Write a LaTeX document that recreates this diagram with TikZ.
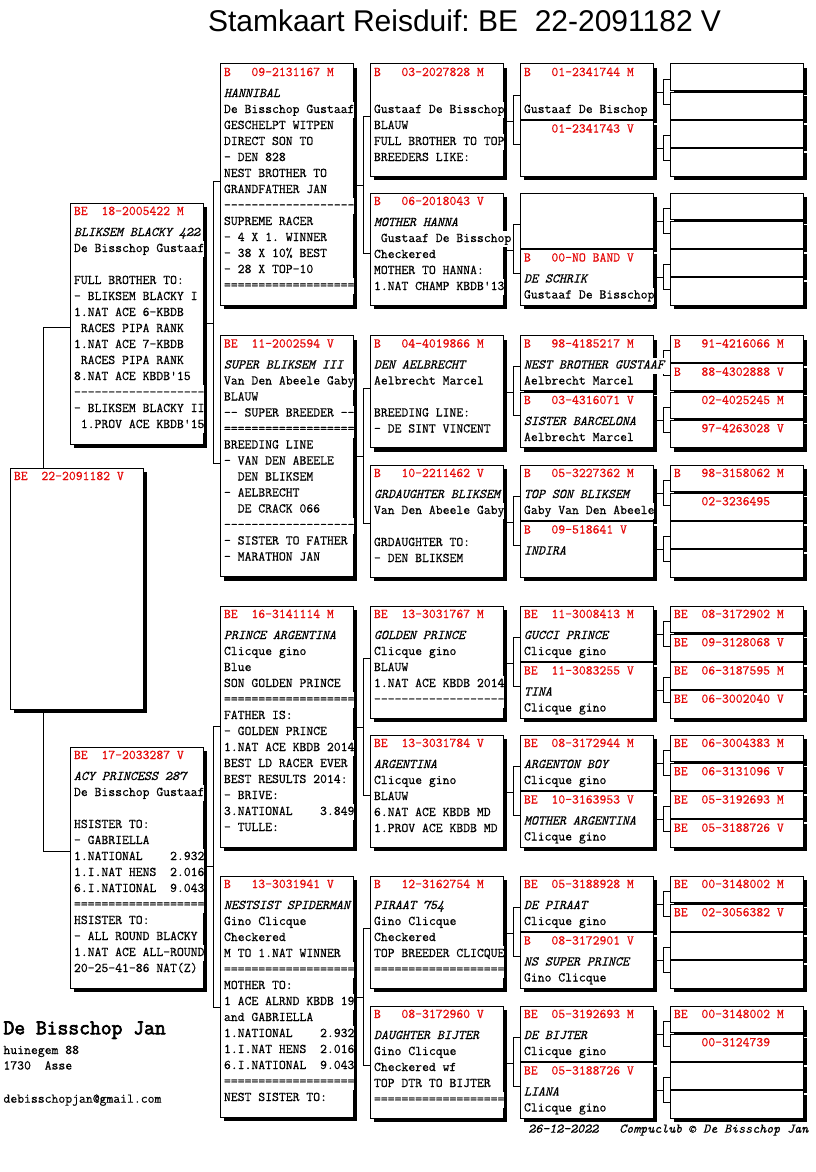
\documentclass[tikz,border=0pt]{standalone}
\usepackage{fontspec}
\setmonofont{Latin Modern Mono}[FakeBold=0.5]
\newfontfamily\ownerfont{Latin Modern Mono}[FakeBold=3]
\newfontfamily\titlefont{Liberation Sans}
\usetikzlibrary{calc}
\pgfdeclarelayer{bg}
\pgfsetlayers{bg,main}
\definecolor{ringred}{RGB}{230,10,10}
\frenchspacing
\newcommand\boxfont{\ttfamily\fontsize{13.33pt}{16pt}\selectfont}
\tikzset{
  boxst/.style={draw=black, line width=1pt, fill=white, rectangle, anchor=north west, inner sep=0pt, outer sep=0pt, minimum width=133pt},
  txt/.style={anchor=base west, inner sep=0pt, outer sep=0pt, fill=white, text height=11pt, text depth=5pt, font=\boxfont},
  itxt/.style={txt, font=\boxfont\itshape},
  rtxt/.style={txt, text=ringred},
  conn/.style={draw=black, line width=1pt},
  free/.style={anchor=base west, inner sep=0pt, outer sep=0pt},
}
\newcommand\pbox[4]{\fill[black] (#2+4,#3+4) rectangle ++(133,#4); \node[boxst, minimum height=#4pt] (#1) at (#2,#3) {};}
\newcommand\bxring[2]{\node[rtxt] (#1-r) at ($(#1.north west)+(4,12)$) {#2};}
\newcommand\bxline[3]{\node[txt] (#1-#2) at ($(#1.north west)+(4,{17+16*#2})$) {#3};}
\newcommand\bxital[3]{\node[itxt] (#1-#2) at ($(#1.north west)+(4,{17+16*#2})$) {#3};}
\newcommand\brk[7]{%
  \draw[conn] (#1.east |- 0,#2) -- (#3,#2);
  \draw[conn] (#4.west |- 0,#5) -| (#3,#7) -- (#6.west |- 0,#7);
}
\begin{document}
\begin{tikzpicture}[x=1pt,y=-1pt]
\useasboundingbox (0,0) rectangle (816,1172);
\node[free, font=\titlefont\fontsize{30pt}{36pt}\selectfont] (title) at (208,32) {Stamkaart Reisduif: BE\ \ 22-2091182 V};
% boxes
\pbox{s}{10}{468}{241}
\pbox{p1}{70}{203}{241}
\pbox{p2}{70}{747}{241}
\foreach \T [count=\j] in {64,335.5,606,876} {\pbox{g\j}{220}{\T}{241}}
\foreach \T [count=\j] in {64,193,335.5,465,606,735,876,1006} {
  \pgfmathtruncatemacro\ka{2*\j-1}
  \pgfmathtruncatemacro\kb{2*\j}
  \pgfmathtruncatemacro\ma{4*\j-3}
  \pgfmathtruncatemacro\mb{4*\j-2}
  \pgfmathtruncatemacro\mc{4*\j-1}
  \pgfmathtruncatemacro\md{4*\j}
  \pgfmathsetmacro\Tb{\T+56.5}
  \pgfmathsetmacro\Ta{\T+28.25}
  \pgfmathsetmacro\Tc{\T+84.75}
  \pbox{h\j}{370}{\T}{112}
  \pbox{k\ka}{520}{\T}{55}
  \pbox{k\kb}{520}{\Tb}{55.5}
  \pbox{m\ma}{670}{\T}{26.75}
  \pbox{m\mb}{670}{\Ta}{26.75}
  \pbox{m\mc}{670}{\Tb}{26.75}
  \pbox{m\md}{670}{\Tc}{27.25}
}
% connectors
\begin{pgfonlayer}{bg}
\draw[conn] (p1.west |- 0,327) -| (43,851) -- (p2.west |- 0,851);
\brk{p1}{323}{213.5}{g1}{181}{g2}{463}
\brk{p2}{866.7}{213.5}{g3}{726}{g4}{1007}
\brk{g1}{185}{363.3}{h1}{116}{h2}{253}
\brk{g2}{456.7}{363.3}{h3}{388}{h4}{523}
\brk{g3}{727.3}{363.3}{h5}{658}{h6}{795}
\brk{g4}{997.3}{363.3}{h7}{928}{h8}{1065}
\foreach \T [count=\j] in {64,193,335.5,465,606,735,876,1006} {
  \pgfmathtruncatemacro\ka{2*\j-1}
  \pgfmathtruncatemacro\kb{2*\j}
  \pgfmathtruncatemacro\ma{4*\j-3}
  \pgfmathtruncatemacro\mb{4*\j-2}
  \pgfmathtruncatemacro\mc{4*\j-1}
  \pgfmathtruncatemacro\md{4*\j}
  \pgfmathsetmacro\yp{\T+57}
  \pgfmathsetmacro\ya{\T+31}
  \pgfmathsetmacro\yb{\T+80}
  \pgfmathsetmacro\ep{\T+28}
  \pgfmathsetmacro\ea{\T+15}
  \pgfmathsetmacro\eb{\T+40}
  \pgfmathsetmacro\fp{\T+84.5}
  \pgfmathsetmacro\fa{\T+71.5}
  \pgfmathsetmacro\fb{\T+96.5}
  \brk{h\j}{\yp}{513.3}{k\ka}{\ya}{k\kb}{\yb}
  \brk{k\ka}{\ep}{663.3}{m\ma}{\ea}{m\mb}{\eb}
  \brk{k\kb}{\fp}{663.3}{m\mc}{\fa}{m\md}{\fb}
}
\end{pgfonlayer}
% texts
\bxring{s}{BE~~22-2091182 V}
\bxring{p1}{BE~~18-2005422 M}
\bxital{p1}{1}{BLIKSEM BLACKY 422}
\bxline{p1}{2}{De Bisschop Gustaaf}
\bxline{p1}{4}{FULL BROTHER TO:}
\bxline{p1}{5}{- BLIKSEM BLACKY I}
\bxline{p1}{6}{1.NAT ACE 6-KBDB}
\bxline{p1}{7}{~RACES PIPA RANK}
\bxline{p1}{8}{1.NAT ACE 7-KBDB}
\bxline{p1}{9}{~RACES PIPA RANK}
\bxline{p1}{10}{8.NAT ACE KBDB'15}
\bxline{p1}{11}{-------------------}
\bxline{p1}{12}{- BLIKSEM BLACKY II}
\bxline{p1}{13}{~1.PROV ACE KBDB'15}
\bxring{p2}{BE~~17-2033287 V}
\bxital{p2}{1}{ACY PRINCESS 287}
\bxline{p2}{2}{De Bisschop Gustaaf}
\bxline{p2}{4}{HSISTER TO:}
\bxline{p2}{5}{- GABRIELLA}
\bxline{p2}{6}{1.NATIONAL~~~~2.932}
\bxline{p2}{7}{1.I.NAT HENS~~2.016}
\bxline{p2}{8}{6.I.NATIONAL~~9.043}
\bxline{p2}{9}{===================}
\bxline{p2}{10}{HSISTER TO:}
\bxline{p2}{11}{- ALL ROUND BLACKY}
\bxline{p2}{12}{1.NAT ACE ALL-ROUND}
\bxline{p2}{13}{20-25-41-86 NAT(Z)}
% g1
\bxring{g1}{B~~~09-2131167 M}
\bxital{g1}{1}{HANNIBAL}
\bxline{g1}{2}{De Bisschop Gustaaf}
\bxline{g1}{3}{GESCHELPT WITPEN}
\bxline{g1}{4}{DIRECT SON TO}
\bxline{g1}{5}{- DEN 828}
\bxline{g1}{6}{NEST BROTHER TO}
\bxline{g1}{7}{GRANDFATHER JAN}
\bxline{g1}{8}{-------------------}
\bxline{g1}{9}{SUPREME RACER}
\bxline{g1}{10}{- 4 X 1. WINNER}
\bxline{g1}{11}{- 38 X 10\% BEST}
\bxline{g1}{12}{- 28 X TOP-10}
\bxline{g1}{13}{===================}
% g2
\bxring{g2}{BE~~11-2002594 V}
\bxital{g2}{1}{SUPER BLIKSEM III}
\bxline{g2}{2}{Van Den Abeele Gaby}
\bxline{g2}{3}{BLAUW}
\bxline{g2}{4}{-- SUPER BREEDER --}
\bxline{g2}{5}{===================}
\bxline{g2}{6}{BREEDING LINE}
\bxline{g2}{7}{- VAN DEN ABEELE}
\bxline{g2}{8}{~~DEN BLIKSEM}
\bxline{g2}{9}{- AELBRECHT}
\bxline{g2}{10}{~~DE CRACK 066}
\bxline{g2}{11}{-------------------}
\bxline{g2}{12}{- SISTER TO FATHER}
\bxline{g2}{13}{- MARATHON JAN}
% g3
\bxring{g3}{BE~~16-3141114 M}
\bxital{g3}{1}{PRINCE ARGENTINA}
\bxline{g3}{2}{Clicque gino}
\bxline{g3}{3}{Blue}
\bxline{g3}{4}{SON GOLDEN PRINCE}
\bxline{g3}{5}{===================}
\bxline{g3}{6}{FATHER IS:}
\bxline{g3}{7}{- GOLDEN PRINCE}
\bxline{g3}{8}{1.NAT ACE KBDB 2014}
\bxline{g3}{9}{BEST LD RACER EVER}
\bxline{g3}{10}{BEST RESULTS 2014:}
\bxline{g3}{11}{- BRIVE:}
\bxline{g3}{12}{3.NATIONAL~~~~3.849}
\bxline{g3}{13}{- TULLE:}
% g4
\bxring{g4}{B~~~13-3031941 V}
\bxital{g4}{1}{NESTSIST SPIDERMAN}
\bxline{g4}{2}{Gino Clicque}
\bxline{g4}{3}{Checkered}
\bxline{g4}{4}{M TO 1.NAT WINNER}
\bxline{g4}{5}{===================}
\bxline{g4}{6}{MOTHER TO:}
\bxline{g4}{7}{1 ACE ALRND KBDB 19}
\bxline{g4}{8}{and GABRIELLA}
\bxline{g4}{9}{1.NATIONAL~~~~2.932}
\bxline{g4}{10}{1.I.NAT HENS~~2.016}
\bxline{g4}{11}{6.I.NATIONAL~~9.043}
\bxline{g4}{12}{===================}
\bxline{g4}{13}{NEST SISTER TO:}
% h boxes
\bxring{h1}{B~~~03-2027828 M}
\bxline{h1}{2}{Gustaaf De Bisschop}
\bxline{h1}{3}{BLAUW}
\bxline{h1}{4}{FULL BROTHER TO TOP}
\bxline{h1}{5}{BREEDERS LIKE:}
\bxring{h2}{B~~~06-2018043 V}
\bxital{h2}{1}{MOTHER HANNA}
\bxline{h2}{2}{~Gustaaf De Bisschop}
\bxline{h2}{3}{Checkered}
\bxline{h2}{4}{MOTHER TO HANNA:}
\bxline{h2}{5}{1.NAT CHAMP KBDB'13}
\bxring{h3}{B~~~04-4019866 M}
\bxital{h3}{1}{DEN AELBRECHT}
\bxline{h3}{2}{Aelbrecht Marcel}
\bxline{h3}{4}{BREEDING LINE:}
\bxline{h3}{5}{- DE SINT VINCENT}
\bxring{h4}{B~~~10-2211462 V}
\bxital{h4}{1}{GRDAUGHTER BLIKSEM}
\bxline{h4}{2}{Van Den Abeele Gaby}
\bxline{h4}{4}{GRDAUGHTER TO:}
\bxline{h4}{5}{- DEN BLIKSEM}
\bxring{h5}{BE~~13-3031767 M}
\bxital{h5}{1}{GOLDEN PRINCE}
\bxline{h5}{2}{Clicque gino}
\bxline{h5}{3}{BLAUW}
\bxline{h5}{4}{1.NAT ACE KBDB 2014}
\bxline{h5}{5}{-------------------}
\bxring{h6}{BE~~13-3031784 V}
\bxital{h6}{1}{ARGENTINA}
\bxline{h6}{2}{Clicque gino}
\bxline{h6}{3}{BLAUW}
\bxline{h6}{4}{6.NAT ACE KBDB MD}
\bxline{h6}{5}{1.PROV ACE KBDB MD}
\bxring{h7}{B~~~12-3162754 M}
\bxital{h7}{1}{PIRAAT 754}
\bxline{h7}{2}{Gino Clicque}
\bxline{h7}{3}{Checkered}
\bxline{h7}{4}{TOP BREEDER CLICQUE}
\bxline{h7}{5}{===================}
\bxring{h8}{B~~~08-3172960 V}
\bxital{h8}{1}{DAUGHTER BIJTER}
\bxline{h8}{2}{Gino Clicque}
\bxline{h8}{3}{Checkered wf}
\bxline{h8}{4}{TOP DTR TO BIJTER}
\bxline{h8}{5}{===================}
% k boxes
\bxring{k1}{B~~~01-2341744 M}
\bxline{k1}{2}{Gustaaf De Bischop}
\bxring{k2}{~~~~01-2341743 V}
\bxring{k4}{B~~~00-NO BAND V}
\bxital{k4}{1}{DE SCHRIK}
\bxline{k4}{2}{Gustaaf De Bisschop}
\bxring{k5}{B~~~98-4185217 M}
\bxital{k5}{1}{NEST BROTHER GUSTAAF}
\bxline{k5}{2}{Aelbrecht Marcel}
\bxring{k6}{B~~~03-4316071 V}
\bxital{k6}{1}{SISTER BARCELONA}
\bxline{k6}{2}{Aelbrecht Marcel}
\bxring{k7}{B~~~05-3227362 M}
\bxital{k7}{1}{TOP SON BLIKSEM}
\bxline{k7}{2}{Gaby Van Den Abeele}
\bxring{k8}{B~~~09-518641 V}
\bxital{k8}{1}{INDIRA}
\bxring{k9}{BE~~11-3008413 M}
\bxital{k9}{1}{GUCCI PRINCE}
\bxline{k9}{2}{Clicque gino}
\bxring{k10}{BE~~11-3083255 V}
\bxital{k10}{1}{TINA}
\bxline{k10}{2}{Clicque gino}
\bxring{k11}{BE~~08-3172944 M}
\bxital{k11}{1}{ARGENTON BOY}
\bxline{k11}{2}{Clicque gino}
\bxring{k12}{BE~~10-3163953 V}
\bxital{k12}{1}{MOTHER ARGENTINA}
\bxline{k12}{2}{Clicque gino}
\bxring{k13}{BE~~05-3188928 M}
\bxital{k13}{1}{DE PIRAAT}
\bxline{k13}{2}{Clicque gino}
\bxring{k14}{B~~~08-3172901 V}
\bxital{k14}{1}{NS SUPER PRINCE}
\bxline{k14}{2}{Gino Clicque}
\bxring{k15}{BE~~05-3192693 M}
\bxital{k15}{1}{DE BIJTER}
\bxline{k15}{2}{Clicque gino}
\bxring{k16}{BE~~05-3188726 V}
\bxital{k16}{1}{LIANA}
\bxline{k16}{2}{Clicque gino}
% m boxes
\bxring{m9}{B~~~91-4216066 M}
\bxring{m10}{B~~~88-4302888 V}
\bxring{m11}{~~~~02-4025245 M}
\bxring{m12}{~~~~97-4263028 V}
\bxring{m13}{B~~~98-3158062 M}
\bxring{m14}{~~~~02-3236495}
\bxring{m17}{BE~~08-3172902 M}
\bxring{m18}{BE~~09-3128068 V}
\bxring{m19}{BE~~06-3187595 M}
\bxring{m20}{BE~~06-3002040 V}
\bxring{m21}{BE~~06-3004383 M}
\bxring{m22}{BE~~06-3131096 V}
\bxring{m23}{BE~~05-3192693 M}
\bxring{m24}{BE~~05-3188726 V}
\bxring{m25}{BE~~00-3148002 M}
\bxring{m26}{BE~~02-3056382 V}
\bxring{m29}{BE~~00-3148002 M}
\bxring{m30}{~~~~00-3124739}
% footer
\node[free, font=\ownerfont\fontsize{21pt}{24pt}\selectfont] (owner) at (3.5,1034.3) {De Bisschop Jan};
\node[free, font=\boxfont] (addr1) at (3.5,1054) {huinegem 88};
\node[free, font=\boxfont] (addr2) at (3.5,1069.5) {1730~~Asse};
\node[free, font=\boxfont] (email) at (3.5,1102.7) {debisschopjan@gmail.com};
\node[free, font=\boxfont\itshape] (stamp) at (528.3,1132.7) {26-12-2022~~~Compuclub © De Bisschop Jan};
\end{tikzpicture}
\end{document}
